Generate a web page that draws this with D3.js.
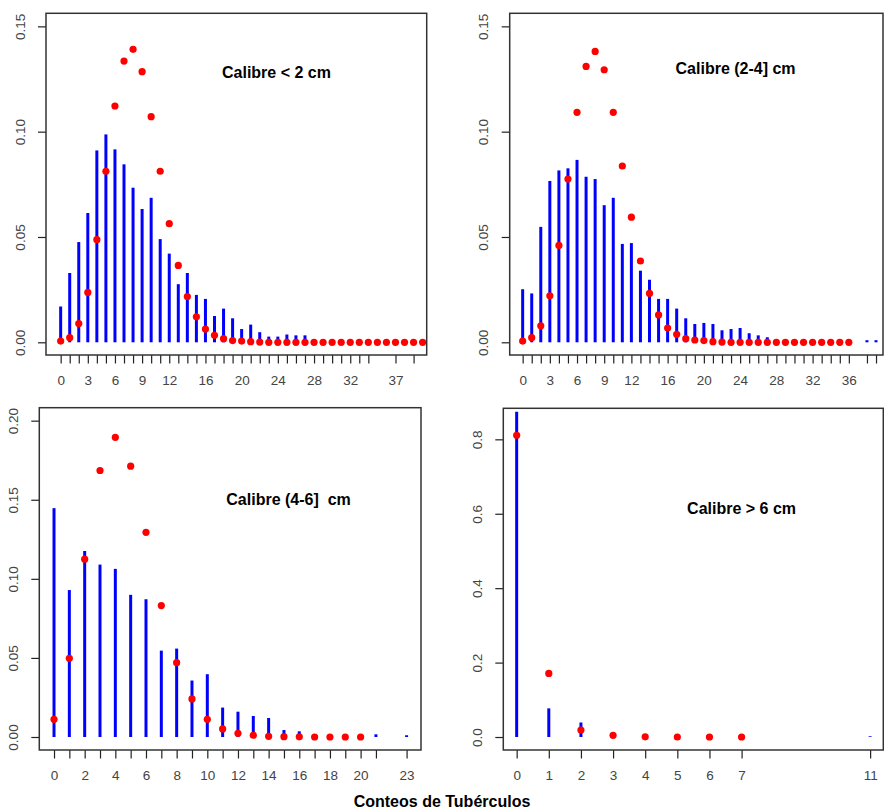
<!DOCTYPE html>
<html>
<head>
<meta charset="utf-8">
<script src="https://cdn.jsdelivr.net/npm/d3@7"></script>
<style>
  body { margin: 0; background: #fff; }
  svg { font-family: "Liberation Sans", Arial, sans-serif; }
  .titulo { font-weight: bold; font-size: 16px; fill: #000; }
  .eje text { font-size: 13.5px; fill: #444; }
  .eje line { stroke: #222; stroke-width: 1.2; }
</style>
</head>
<body>
<svg id="grafico" width="884" height="809"></svg>
<script>
// Calibre < 2 cm : conteos observados, frecuencia relativa y ajuste Poisson (x = 0..40)
const c1Conteos = [0,1,2,3,4,5,6,7,8,9,10,11,12,13,14,15,16,17,18,19,20,21,22,23,24,25,26,27,28,29,30,31,32,33,34,37,39]
const c1Observada = [0.0170,0.0329,0.0476,0.0614,0.0911,0.0987,0.0916,0.0845,0.0734,0.0633,0.0686,0.0490,0.0421,0.0276,0.0329,0.0225,0.0206,0.0125,0.0160,0.0114,0.0063,0.0084,0.0048,0.0027,0.0027,0.0037,0.0033,0.0033,0.0012,0.0012,0.0012,0.0012,0.0012,0.0012,0.0012,0.0012,0.0012]
const c1Poisson = [0.0006,0.0022,0.0089,0.0237,0.0487,0.0812,0.1122,0.1335,0.1391,0.1285,0.1071,0.0812,0.0563,0.0365,0.0217,0.0121,0.0063,0.0033,0.0017,0.0008,0.0006,0.0003,0.0001,0,0,0,0,0,0,0,0,0,0,0,0,0,0,0,0,0,0]
const c1Ticks = c1Conteos
const c1Etiquetas = [0,3,6,9,12,16,20,24,28,32,37]

// Calibre (2-4] cm
const c2Conteos = [0,1,2,3,4,5,6,7,8,9,10,11,12,13,14,15,16,17,18,19,20,21,22,23,24,25,26,27,28,29,30,31,32,33,34,35,36,38,39]
const c2Observada = [0.0252,0.0232,0.0548,0.0766,0.0816,0.0826,0.0866,0.0786,0.0775,0.0651,0.0686,0.0467,0.0471,0.0340,0.0297,0.0206,0.0206,0.0160,0.0114,0.0087,0.0092,0.0087,0.0057,0.0063,0.0068,0.0043,0.0033,0.0024,0.0010,0.0010,0.0010,0.0010,0.0010,0.0010,0.0010,0.0010,0.0010,0.0010,0.0010]
const c2Poisson = [0.0006,0.0022,0.0078,0.0221,0.0460,0.0775,0.1092,0.1310,0.1381,0.1294,0.1092,0.0837,0.0594,0.0386,0.0232,0.0130,0.0068,0.0038,0.0017,0.0011,0.0008,0.0003,0.0001,0,0,0,0,0,0,0,0,0,0,0,0,0,0]
const c2Ticks = c2Conteos
const c2Etiquetas = [0,3,6,9,12,16,20,24,28,32,36]

// Calibre (4-6] cm
const c3Conteos = [0,1,2,3,4,5,6,7,8,9,10,11,12,13,14,15,16,17,18,19,20,21,23]
const c3Observada = [0.1447,0.0929,0.1176,0.1090,0.1063,0.0899,0.0871,0.0546,0.0559,0.0357,0.0397,0.0186,0.0160,0.0133,0.0120,0.0044,0.0036,0.0010,0.0010,0.0010,0.0010,0.0017,0.0011]
const c3Poisson = [0.0112,0.0498,0.1124,0.1685,0.1895,0.1712,0.1294,0.0831,0.0470,0.0241,0.0112,0.0051,0.0023,0.0011,0.0004,0.0002,0.0001,0,0,0,0]
const c3Ticks = c3Conteos
const c3Etiquetas = [0,2,4,6,8,10,12,14,16,18,20,23]

// Calibre > 6 cm
const c4Conteos = [0,1,2,11]
const c4Observada = [0.874,0.077,0.039,0.002]
const c4Poisson = [0.811,0.171,0.0188,0.0045,0.0006,0.0001,0,0]
const c4Ticks = [0,1,2,3,4,5,6,7,11]
const c4Etiquetas = [0,1,2,3,4,5,6,7,11]

let paneles = [
  {titulo: 'Calibre < 2 cm', conteos: c1Conteos, obs: c1Observada, pois: c1Poisson, ticks: c1Ticks, etiquetas: c1Etiquetas,
   yTicks: [0, 0.05, 0.10, 0.15], formato: '.2f',
   caja: [46, 13.3, 426.7, 355], xlim: [-1.62, 40.45], ylim: [-0.00603, 0.1562], posTitulo: [23.85, 0.1283]},
  {titulo: 'Calibre (2-4] cm', conteos: c2Conteos, obs: c2Observada, pois: c2Poisson, ticks: c2Ticks, etiquetas: c2Etiquetas,
   yTicks: [0, 0.05, 0.10, 0.15], formato: '.2f',
   caja: [509.7, 13.3, 883, 355], xlim: [-1.43, 39.77], ylim: [-0.00603, 0.1562], posTitulo: [23.5, 0.1302]},
  {titulo: 'Calibre (4-6]  cm', conteos: c3Conteos, obs: c3Observada, pois: c3Poisson, ticks: c3Ticks, etiquetas: c3Etiquetas,
   yTicks: [0, 0.05, 0.10, 0.15, 0.20], formato: '.2f',
   caja: [39.3, 407.7, 421, 750], xlim: [-0.96, 23.94], ylim: [-0.00822, 0.2082], posTitulo: [15.3, 0.150]},
  {titulo: 'Calibre > 6 cm', conteos: c4Conteos, obs: c4Observada, pois: c4Poisson, ticks: c4Ticks, etiquetas: c4Etiquetas,
   yTicks: [0, 0.2, 0.4, 0.6, 0.8], formato: '.1f',
   caja: [503.3, 408.3, 883.3, 750], xlim: [-0.416, 11.41], ylim: [-0.0349, 0.8834], posTitulo: [7.0, 0.6156]}
]

let svg = d3.select('#grafico')

svg.append('rect').attr('width', 884).attr('height', 809).attr('fill', '#fff')

paneles.forEach(p => {
  let [x0, y0, x1, y1] = p.caja

  let fnX = d3.scaleLinear().domain(p.xlim).range([x0, x1])
  let fnY = d3.scaleLinear().domain(p.ylim).range([y1, y0])

  // eje x: un tick por cada conteo, etiqueta solo en algunos
  let eixoX = d3.axisBottom(fnX)
    .tickValues(p.ticks)
    .tickSize(8.5)
    .tickSizeOuter(0)
    .tickFormat(d => p.etiquetas.includes(d) ? d : '')
  let gX = svg.append('g').attr('class', 'eje')
    .attr('transform', 'translate(0,' + y1 + ')')
    .call(eixoX)
  gX.select('.domain').remove()
  gX.selectAll('text').attr('y', 25).attr('dy', '0.35em')

  // eje y con etiquetas giradas como en R
  let eixoY = d3.axisLeft(fnY)
    .tickValues(p.yTicks)
    .tickSize(8)
    .tickSizeOuter(0)
    .tickFormat(d3.format(p.formato))
  let gY = svg.append('g').attr('class', 'eje')
    .attr('transform', 'translate(' + x0 + ',0)')
    .call(eixoY)
  gY.select('.domain').remove()
  gY.selectAll('text')
    .attr('x', null).attr('dy', '0.35em')
    .attr('text-anchor', 'middle')
    .attr('transform', 'translate(-26,0) rotate(-90)')

  // barras (type = "h")
  svg.append('g').selectAll('line')
    .data(p.conteos)
    .join('line')
    .attr('x1', d => fnX(d))
    .attr('x2', d => fnX(d))
    .attr('y1', fnY(0))
    .attr('y2', (d, i) => fnY(p.obs[i]))
    .attr('stroke', '#0000ff')
    .attr('stroke-width', 3)

  // puntos del ajuste Poisson
  svg.append('g').selectAll('circle')
    .data(p.pois)
    .join('circle')
    .attr('cx', (d, i) => fnX(i))
    .attr('cy', d => fnY(d))
    .attr('r', 3.6)
    .attr('fill', '#ff0000')

  // caja
  svg.append('rect')
    .attr('x', x0).attr('y', y0)
    .attr('width', x1 - x0).attr('height', y1 - y0)
    .attr('fill', 'none')
    .attr('stroke', '#333')
    .attr('stroke-width', 1.5)

  svg.append('text')
    .attr('class', 'titulo')
    .attr('x', fnX(p.posTitulo[0]))
    .attr('y', fnY(p.posTitulo[1]))
    .attr('dy', '0.35em')
    .attr('text-anchor', 'middle')
    .style('white-space', 'pre')
    .text(p.titulo)
})

svg.append('text')
  .attr('class', 'titulo')
  .attr('x', 442)
  .attr('y', 801)
  .attr('dy', '0.35em')
  .attr('text-anchor', 'middle')
  .text('Conteos de Tubérculos')
</script>
</body>
</html>
